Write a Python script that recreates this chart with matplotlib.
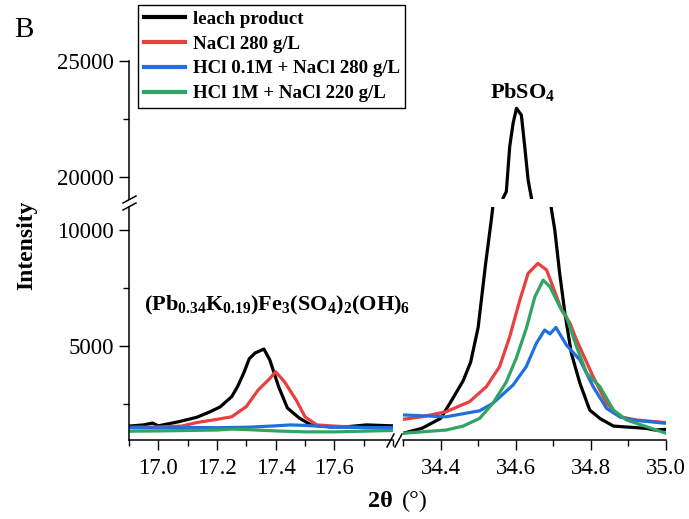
import matplotlib
matplotlib.use("Agg")
import matplotlib.pyplot as plt
from matplotlib.lines import Line2D
from matplotlib.ticker import MultipleLocator

plt.rcParams['font.family'] = ['Liberation Serif', 'DejaVu Serif']
plt.rcParams['mathtext.fontset'] = 'custom'
plt.rcParams['mathtext.rm'] = 'Liberation Serif'
plt.rcParams['mathtext.bf'] = 'Liberation Serif:bold'
plt.rcParams['mathtext.it'] = 'Liberation Serif:italic'

# ---------------- data ----------------
labels = ["leach product", "NaCl 280 g/L", "HCl 0.1M + NaCl 280 g/L", "HCl 1M + NaCl 220 g/L"]
colors = ["#000000", "#e8403f", "#1f6fe0", "#2fa463"]

# left window (jarosite-type peak)
black_l_x = [16.90, 16.95, 16.98, 17.00, 17.07, 17.13, 17.17, 17.21, 17.25, 17.27, 17.29, 17.31, 17.33, 17.36,
             17.38, 17.41, 17.44, 17.48, 17.52, 17.59, 17.65, 17.71, 17.80]
black_l_y = [1550, 1600, 1680, 1560, 1740, 1925, 2130, 2370, 2815, 3250, 3800, 4450, 4700, 4870,
             4400, 3250, 2330, 1900, 1600, 1510, 1530, 1600, 1560]
red_l_x = [16.90, 17.00, 17.08, 17.13, 17.20, 17.25, 17.30, 17.34, 17.38, 17.40, 17.43, 17.47, 17.50,
           17.54, 17.60, 17.70, 17.80]
red_l_y = [1500, 1510, 1550, 1700, 1840, 1950, 2390, 3100, 3600, 3890, 3460, 2670, 1950,
           1600, 1550, 1480, 1450]
blue_l_x = [16.90, 17.00, 17.10, 17.20, 17.30, 17.40, 17.45, 17.50, 17.60, 17.70, 17.80]
blue_l_y = [1480, 1470, 1490, 1480, 1500, 1560, 1600, 1580, 1500, 1490, 1480]
green_l_x = [16.90, 17.00, 17.10, 17.20, 17.25, 17.30, 17.40, 17.50, 17.60, 17.70, 17.80]
green_l_y = [1330, 1340, 1360, 1380, 1420, 1400, 1340, 1300, 1300, 1330, 1360]

# right window (PbSO4 peak)
black_r_x = [34.30, 34.35, 34.40, 34.43, 34.46, 34.48, 34.50, 34.52, 34.535, 34.55, 34.566, 34.575,
             34.584, 34.593, 34.602, 34.615, 34.624, 34.633, 34.642, 34.66, 34.695, 34.704, 34.717,
             34.731, 34.748, 34.771, 34.797, 34.824, 34.86, 34.904, 34.949, 34.97, 35.00]
black_r_y = [1240, 1450, 1880, 2670, 3500, 4300, 5800, 8560, 10430, 12500, 19080, 19370,
             21310, 22310, 22960, 22670, 21310, 19870, 19080, 16000, 10900, 10000, 8130,
             6410, 4690, 3390, 2240, 1880, 1550, 1500, 1450, 1380, 1410]
red_r_x = [34.30, 34.35, 34.415, 34.477, 34.522, 34.557, 34.584, 34.611, 34.633, 34.659, 34.682,
           34.699, 34.722, 34.744, 34.762, 34.806, 34.842, 34.877, 34.922, 35.00]
red_r_y = [1840, 1950, 2170, 2600, 3250, 4110, 5400, 6980, 8130, 8560, 8280,
           7560, 6550, 6000, 5260, 3680, 2530, 1950, 1810, 1700]
blue_r_x = [34.30, 34.415, 34.504, 34.539, 34.593, 34.628, 34.655, 34.677, 34.691, 34.707, 34.735,
            34.771, 34.806, 34.842, 34.877, 34.91, 35.00]
blue_r_y = [2030, 1950, 2210, 2530, 3320, 4110, 5120, 5690, 5520, 5800, 5040,
            4400, 3250, 2310, 1950, 1810, 1670]
green_r_x = [34.30, 34.415, 34.46, 34.504, 34.539, 34.575, 34.602, 34.628, 34.651, 34.673, 34.691,
             34.717, 34.735, 34.762, 34.789, 34.824, 34.86, 34.895, 34.949, 35.00]
green_r_y = [1240, 1380, 1550, 1880, 2530, 3450, 4500, 5750, 7120, 7840, 7560,
             6700, 6260, 4970, 3820, 3250, 2240, 1810, 1520, 1240]

left_series = [(black_l_x, black_l_y), (red_l_x, red_l_y), (blue_l_x, blue_l_y), (green_l_x, green_l_y)]
right_series = [(black_r_x, black_r_y), (red_r_x, red_r_y), (blue_r_x, blue_r_y), (green_r_x, green_r_y)]

xlim_left = (16.9, 17.8)
xlim_right = (34.3, 35.0)
ylim_low = (950, 10990)
ylim_high = (19050, 25000)
xticks_left = [17.0, 17.2, 17.4, 17.6]
xticks_right = [34.4, 34.6, 34.8, 35.0]
yticks_low = [5000, 10000]
yticks_high = [20000, 25000]

# ---------------- figure ----------------
W, H = 689, 519
fig = plt.figure(figsize=(W / 100, H / 100), dpi=100)

def rect(x0, y0, x1, y1):
    return [x0 / W, 1 - y1 / H, (x1 - x0) / W, (y1 - y0) / H]

xL0, xL1, xR0, xR1 = 129, 393, 403, 666
yU0, yU1, yD0, yD1 = 61, 199, 207, 440

ax_ll = fig.add_axes(rect(xL0, yD0, xL1, yD1))
ax_lr = fig.add_axes(rect(xR0, yD0, xR1, yD1))
ax_ul = fig.add_axes(rect(xL0, yU0, xL1, yU1))
ax_ur = fig.add_axes(rect(xR0, yU0, xR1, yU1))

lw = 2.3
for ax in (ax_ll, ax_lr, ax_ul, ax_ur):
    ax.patch.set_alpha(0)
    for s in ax.spines.values():
        s.set_visible(False)
    ax.tick_params(which='both', direction='out', labelsize=16.5, width=1.0)
    ax.tick_params(which='major', length=7, pad=4)
    ax.tick_params(which='minor', length=4)

for ax in (ax_ll, ax_lr):
    ax.set_ylim(*ylim_low)
for ax in (ax_ul, ax_ur):
    ax.set_ylim(*ylim_high)
for ax in (ax_ll, ax_ul):
    ax.set_xlim(*xlim_left)
for ax in (ax_lr, ax_ur):
    ax.set_xlim(*xlim_right)

for (x, y), c in zip(left_series, colors):
    ax_ll.plot(x, y, color=c, lw=lw, solid_joinstyle='round')
for (x, y), c in zip(right_series, colors):
    ax_lr.plot(x, y, color=c, lw=lw, solid_joinstyle='round')
    ax_ur.plot(x, y, color=c, lw=lw, solid_joinstyle='round')

# spines & ticks
ax_ll.spines['left'].set_visible(True)
ax_ll.spines['bottom'].set_visible(True)
ax_lr.spines['bottom'].set_visible(True)
ax_ul.spines['left'].set_visible(True)
for ax in (ax_ll, ax_lr, ax_ul, ax_ur):
    for s in ax.spines.values():
        s.set_linewidth(1.1)

ax_ll.set_xticks(xticks_left)
ax_ll.set_xticklabels([f"{v:.1f}" for v in xticks_left])
ax_ll.xaxis.set_minor_locator(MultipleLocator(0.1))
ax_ll.set_yticks(yticks_low)
ax_ll.yaxis.set_minor_locator(MultipleLocator(2500))
ax_ll.tick_params(axis='x', pad=6)

ax_lr.set_xticks(xticks_right)
ax_lr.set_xticklabels([f"{v:.1f}" for v in xticks_right])
ax_lr.xaxis.set_minor_locator(MultipleLocator(0.1))
ax_lr.tick_params(axis='x', pad=6)
ax_lr.tick_params(axis='y', which='both', left=False, labelleft=False)

ax_ul.set_yticks(yticks_high)
ax_ul.yaxis.set_minor_locator(MultipleLocator(2500))
ax_ul.tick_params(axis='x', which='both', bottom=False, labelbottom=False)

ax_ur.tick_params(axis='both', which='both', left=False, bottom=False,
                  labelleft=False, labelbottom=False)

# break marks (figure pixel coords)
def seg(x0, y0, x1, y1):
    fig.add_artist(Line2D([x0 / W, x1 / W], [1 - y0 / H, 1 - y1 / H],
                          color='black', lw=1.1, transform=fig.transFigure))

# y-axis break
seg(123, 203, 136, 196)
seg(123, 210, 136, 203)
# x-axis break
seg(387, 447, 394, 434)
seg(395, 447, 402, 434)

# texts
fig.text(14 / W, 1 - 37 / H, "B", fontsize=21, va='baseline', ha='left')
fig.text(27 / W, 1 - 245 / H, "Intensity", fontsize=17, fontweight='bold',
         rotation=90, ha='center', va='center')
fig.text(393 / W, 1 - 507 / H, "2θ", fontsize=17.5, fontweight='bold', ha='right', va='baseline')
fig.text(402 / W, 1 - 507 / H, "(°)", fontsize=17.5, ha='left', va='baseline')
fig.text(523 / W, 1 - 92 / H, r"$\mathbf{PbSO_4}$", fontsize=16, ha='center', va='center')
fig.text(277 / W, 1 - 305 / H, r"$\mathbf{(Pb_{0.34}K_{0.19})Fe_3(SO_4)_2(OH)_6}$",
         fontsize=16, ha='center', va='center')

handles = [Line2D([], [], color=c, lw=3) for c in colors]
leg = fig.legend(handles, labels, loc='upper left', bbox_to_anchor=(138 / W, 1 - 5 / H),
                 prop={'family': 'Liberation Serif', 'weight': 'bold', 'size': 13.6},
                 frameon=True, fancybox=False, framealpha=1, edgecolor='black',
                 handlelength=2.2, handletextpad=0.4, labelspacing=0.4,
                 borderpad=0.3, borderaxespad=0)
leg.get_frame().set_linewidth(1.0)

fig.savefig("out.png", dpi=100)
